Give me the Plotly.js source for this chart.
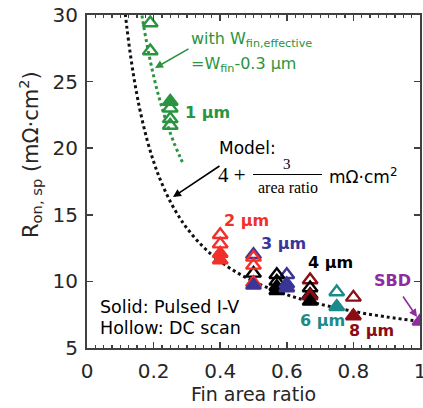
<!DOCTYPE html>
<html>
<head>
<meta charset="utf-8">
<script src="https://cdn.plot.ly/plotly-3.0.1.min.js"></script>
<style>html,body{margin:0;padding:0;background:#fff;}</style>
</head>
<body>
<div id="chart" style="width:423px;height:408px;"></div>
<script>
// ---- data ----
const modelX = [0.115,0.12,0.13,0.14,0.15,0.16,0.18,0.2,0.22,0.25,0.28,0.3,0.33,0.36,0.4,0.45,0.5,0.55,0.6,0.65,0.7,0.8,0.9,1.0];
const modelY = [30.09,29.0,27.08,25.43,24.0,22.75,20.67,19.0,17.64,16.0,14.71,14.0,13.09,12.33,11.5,10.67,10.0,9.45,9.0,8.62,8.29,7.75,7.33,7.0];
const effX = [0.165,0.17,0.18,0.19,0.2,0.21,0.22,0.235,0.25,0.265,0.28,0.29];
const effY = [29.97,29.21,27.81,26.56,25.43,24.41,23.48,22.24,21.14,20.17,19.31,18.78];

// 1 um (green)
const g_hollowX = [0.19,0.19,0.25,0.25,0.25];
const g_hollowY = [29.4,27.3,23.0,22.2,21.7];
const g_solidX = [0.25];
const g_solidY = [23.5];
// 2 um (red)
const r_hollowX = [0.4,0.4,0.5,0.5];
const r_hollowY = [13.5,12.8,11.8,11.2];
const r_solidX = [0.4,0.4,0.5];
const r_solidY = [12.1,11.6,9.9];
// 3 um (blue)
const b_hollowX = [0.5,0.6];
const b_hollowY = [12.0,10.5];
const b_solidX = [0.5,0.6,0.6];
const b_solidY = [9.7,9.8,9.5];
// 4 um (black)
const k_hollowX = [0.5,0.57,0.57,0.67,0.67];
const k_hollowY = [10.6,10.5,10.0,9.5,9.0];
const k_solidX = [0.57,0.57,0.67];
const k_solidY = [9.6,9.3,8.5];
// 6 um (teal)
const t_hollowX = [0.75];
const t_hollowY = [9.2];
const t_solidX = [0.75];
const t_solidY = [8.1];
// 8 um (dark red)
const d_hollowX = [0.67,0.8];
const d_hollowY = [10.1,8.8];
const d_solidX = [0.67,0.8];
const d_solidY = [8.9,7.4];
// SBD (purple)
const s_solidX = [1.0];
const s_solidY = [7.0];

const xTickVals = [0,0.2,0.4,0.6,0.8,1];
const yTickVals = [5,10,15,20,25,30];

// ---- styles ----
const C = {green:'#2a9440', red:'#f2302a', blue:'#3a3597', black:'#000000', teal:'#1c8a8a', dred:'#8c0c14', purple:'#8e2ca0'};
const FONT = 'DejaVu Sans, Liberation Sans, Arial, sans-serif';
const SERIF = 'Liberation Serif, DejaVu Serif, serif';
const MS = 13;

function hollow(x,y,c){return {x:x,y:y,type:'scatter',mode:'markers',hoverinfo:'skip',showlegend:false,
  marker:{symbol:'triangle-up-open',size:MS,color:c,line:{color:c,width:2.4}}};}
function solid(x,y,c){return {x:x,y:y,type:'scatter',mode:'markers',hoverinfo:'skip',showlegend:false,
  marker:{symbol:'triangle-up',size:MS,color:c,line:{color:c,width:2.4}}};}

const traces = [
  {x:modelX,y:modelY,type:'scatter',mode:'lines',line:{color:'#111',width:3,dash:'dot',shape:'spline'},showlegend:false,hoverinfo:'skip'},
  {x:effX,y:effY,type:'scatter',mode:'lines',line:{color:C.green,width:3,dash:'dot',shape:'spline'},showlegend:false,hoverinfo:'skip'},
  hollow(b_hollowX,b_hollowY,C.blue),
  hollow(d_hollowX,d_hollowY,C.dred),
  hollow(k_hollowX,k_hollowY,C.black),
  hollow(r_hollowX,r_hollowY,C.red),
  hollow(t_hollowX,t_hollowY,C.teal),
  hollow(g_hollowX,g_hollowY,C.green),
  solid(r_solidX,r_solidY,C.red),
  solid(d_solidX,d_solidY,C.dred),
  solid(k_solidX,k_solidY,C.black),
  solid(b_solidX,b_solidY,C.blue),
  solid(t_solidX,t_solidY,C.teal),
  solid(g_solidX,g_solidY,C.green),
  solid(s_solidX,s_solidY,C.purple)
];

// pixel -> paper helpers for annotation placement
const L=87, T=15, W=333, H=333;
const px = v => (v-L)/W;
const py = v => (T+H-v)/H;

function txt(text,x,y,color,size,opts){
  return Object.assign({text:text,xref:'paper',yref:'paper',x:px(x),y:py(y),showarrow:false,
    xanchor:'center',yanchor:'middle',font:{family:FONT,size:size,color:color}},opts||{});
}
function arrow(tipX,tipY,tailX,tailY,color){
  return {text:'',xref:'paper',yref:'paper',x:px(tipX),y:py(tipY),ax:tailX-tipX,ay:tailY-tipY,
    showarrow:true,arrowhead:2,arrowsize:1,arrowwidth:1.6,arrowcolor:color};
}

const annotations = [
  txt('with W<sub>fin,effective</sub>',189,40,C.green,16,{xanchor:'left'}),
  txt('=W<sub>fin</sub>-0.3 µm',189,64,C.green,16,{xanchor:'left'}),
  arrow(155,68,190,48,C.green),
  txt('<b>1 µm</b>',183,112,C.green,16,{xanchor:'left'}),
  txt('Model:',217,148,'#000',17,{xanchor:'left'}),
  txt('4 +',216,175,'#000',21,{xanchor:'left',font:{family:SERIF,size:21,color:'#000'}}),
  txt('3',287,164,'#000',15,{font:{family:SERIF,size:15,color:'#000'}}),
  txt('area ratio',287.5,187,'#000',16,{font:{family:SERIF,size:16,color:'#000'}}),
  txt('mΩ·cm<sup>2</sup>',327,176,'#000',17,{xanchor:'left'}),
  arrow(173,197,221,165,'#000'),
  txt('<b>2 µm</b>',246,220,C.red,16),
  txt('<b>3 µm</b>',283,243,C.blue,16),
  txt('<b>4 µm</b>',330,262,'#000',16),
  txt('<b>6 µm</b>',322,320,C.teal,16),
  txt('<b>8 µm</b>',371,330,C.dred,16),
  txt('<b>SBD</b>',392,280,C.purple,16),
  arrow(417,317,402,295,C.purple),
  txt('Solid: Pulsed I-V',98,307,'#000',17.5,{xanchor:'left'}),
  txt('Hollow: DC scan',98,328,'#000',17.5,{xanchor:'left'}),
  txt('R<sub>on, sp</sub> (mΩ·cm<sup>2</sup>)',30,155,'#262626',21,{textangle:-90})
];

const shapes = [
  {type:'line',xref:'paper',yref:'paper',x0:px(253),x1:px(322),y0:py(174.5),y1:py(174.5),line:{color:'#000',width:1.2}}
];

const axisCommon = {showgrid:false,zeroline:false,showline:true,linecolor:'#404040',linewidth:2,mirror:'ticks',
  ticks:'inside',ticklen:6,tickwidth:1.5,tickcolor:'#404040',ticklabeloverflow:'allow',
  tickfont:{family:FONT,size:20,color:'#262626'}};

const layout = {
  width:423,height:408,margin:{l:L,r:423-L-W,t:T,b:408-T-H},
  paper_bgcolor:'#fff',plot_bgcolor:'#fff',showlegend:false,
  xaxis:Object.assign({},axisCommon,{range:[0,1],tickvals:xTickVals,ticklabelstandoff:4,
    minor:{dtick:0.025,ticks:'inside',ticklen:3,tickcolor:'#404040',tickwidth:1.2},
    title:{text:'Fin area ratio',font:{family:FONT,size:19,color:'#262626'},standoff:1}}),
  yaxis:Object.assign({},axisCommon,{range:[5,30],tickvals:yTickVals,ticklabelstandoff:3,
    title:{text:''}}),
  annotations:annotations,
  shapes:shapes
};

Plotly.newPlot('chart',traces,layout,{displayModeBar:false,staticPlot:true});
</script>
</body>
</html>
